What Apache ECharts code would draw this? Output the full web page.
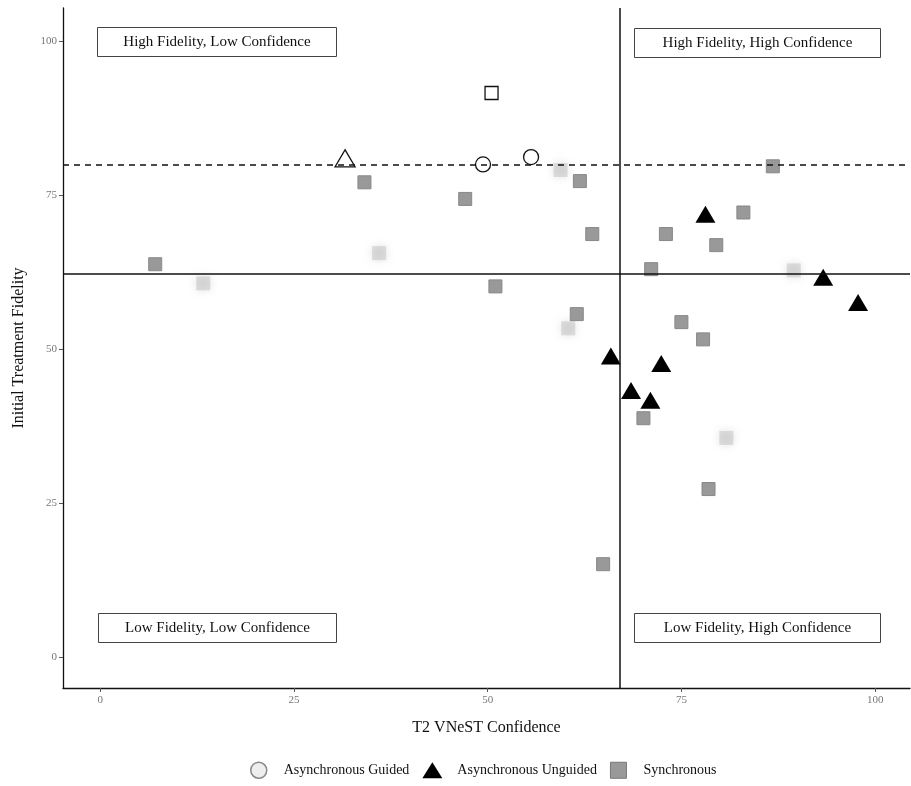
<!DOCTYPE html>
<html>
<head>
<meta charset="utf-8">
<script src="https://cdn.jsdelivr.net/npm/echarts@6/dist/echarts.min.js"></script>
<style>html,body{margin:0;padding:0;background:#fff}#c{width:911px;height:786px}</style>
</head>
<body>
<div id="c"></div>
<script>
// ---- data ----
var xTicks = [0, 25, 50, 75, 100];
var yTicks = [0, 25, 50, 75, 100];

var guidedX = [49.4, 55.6];
var guidedY = [80.0, 81.2];

var unguidedX = [78.1, 93.3, 97.8, 65.9, 68.5, 72.4, 71.0];
var unguidedY = [71.9, 61.7, 57.6, 48.9, 43.3, 47.7, 41.7];

var hollowTriX = [31.6];
var hollowTriY = [81.0];
var hollowSqX = [50.5];
var hollowSqY = [91.6];

var syncX = [7.1, 34.1, 47.1, 51.0, 61.9, 63.5, 61.5, 73.0, 83.0, 86.8, 79.5, 71.1, 75.0, 77.8, 70.1, 78.5, 64.9];
var syncY = [63.8, 77.1, 74.4, 60.2, 77.3, 68.7, 55.7, 68.7, 72.2, 79.7, 66.9, 63.0, 54.4, 51.6, 38.8, 27.3, 15.1];

var faintX = [13.3, 36.0, 59.4, 60.4, 80.8, 89.5];
var faintY = [60.7, 65.6, 79.1, 53.4, 35.6, 62.8];

var vLineX = 67.0;
var hLineY = 62.3;
var dashLineY = 80.0;

var quadLabels = ['High Fidelity, Low Confidence', 'High Fidelity, High Confidence',
                  'Low Fidelity, Low Confidence', 'Low Fidelity, High Confidence'];

function zip(a, b) { return a.map(function (v, i) { return [v, b[i]]; }); }

var FONT = 'Liberation Serif';
var chart = echarts.init(document.getElementById('c'));

function quadBox(left, top, w, text) {
  return {
    type: 'group', left: left, top: top,
    children: [
      { type: 'rect', shape: { x: 0, y: 0, width: w, height: 29 },
        style: { fill: '#fff', stroke: '#444', lineWidth: 1 } },
      { type: 'text', x: w / 2, y: 15,
        style: { text: text, fontFamily: FONT, fontSize: 15, fill: '#111', align: 'center', verticalAlign: 'middle' } }
    ]
  };
}

chart.setOption({
  animation: false,
  backgroundColor: '#fff',
  textStyle: { fontFamily: FONT },
  grid: { left: 63, right: 1, top: 8, bottom: 98, containLabel: false },
  xAxis: {
    type: 'value', min: -4.8, max: 104.5,
    name: 'T2 VNeST Confidence', nameLocation: 'middle', nameGap: 32,
    nameTextStyle: { fontFamily: FONT, fontSize: 16, color: '#111' },
    axisLine: { show: true, onZero: false, lineStyle: { color: '#111', width: 1.3 } },
    axisTick: { show: true, customValues: xTicks, length: 4, lineStyle: { color: '#555' } },
    axisLabel: { customValues: xTicks, fontFamily: FONT, fontSize: 11, color: '#777', margin: 7 },
    splitLine: { show: false }
  },
  yAxis: {
    type: 'value', min: -5, max: 105.4,
    name: 'Initial Treatment Fidelity', nameLocation: 'middle', nameGap: 36,
    nameTextStyle: { fontFamily: FONT, fontSize: 16, color: '#111' },
    axisLine: { show: true, onZero: false, lineStyle: { color: '#111', width: 1.3 } },
    axisTick: { show: true, customValues: yTicks, length: 4, lineStyle: { color: '#555' } },
    axisLabel: { customValues: yTicks, fontFamily: FONT, fontSize: 11, color: '#777', margin: 6 },
    splitLine: { show: false }
  },
  legend: {
    bottom: 2, left: 245, itemGap: 13, itemWidth: 20, itemHeight: 16, symbolKeepAspect: true,
    textStyle: { fontFamily: FONT, fontSize: 14, color: '#111', padding: [0, 0, 0, 10] },
    data: [
      { name: 'Asynchronous Guided', icon: 'path://M8,0A8,8 0 1,1 7.99,0Z', itemStyle: { color: '#eee', borderColor: '#888', borderWidth: 1.5 } },
      { name: 'Asynchronous Unguided', icon: 'triangle', itemStyle: { color: '#000' } },
      { name: 'Synchronous', icon: 'path://M0,0H14V14H0Z', itemStyle: { color: '#999', borderColor: '#777', borderWidth: 1 } }
    ]
  },
  graphic: [
    quadBox(97, 27, 239, quadLabels[0]),
    quadBox(634, 28, 246, quadLabels[1]),
    quadBox(98, 613, 238, quadLabels[2]),
    quadBox(634, 613, 246, quadLabels[3])
  ],
  series: [
    {
      name: 'lines', type: 'scatter', data: [], silent: true,
      markLine: {
        silent: true, symbol: 'none', label: { show: false },
        data: [
          { xAxis: vLineX, lineStyle: { color: '#111', width: 1.5, type: 'solid' } },
          { yAxis: hLineY, lineStyle: { color: '#111', width: 1.5, type: 'solid' } },
          { yAxis: dashLineY, lineStyle: { color: '#111', width: 1.6, type: [6, 5] } }
        ]
      }
    },
    {
      name: 'faint', type: 'scatter', symbol: 'rect', symbolSize: 14, z: 2,
      data: zip(faintX, faintY), silent: true,
      itemStyle: { color: '#bbb', opacity: 0.45, shadowBlur: 8, shadowColor: 'rgba(150,150,150,0.6)' }
    },
    {
      name: 'Synchronous', type: 'scatter', symbol: 'rect', symbolSize: 13, z: 3,
      data: zip(syncX, syncY),
      itemStyle: { color: '#999', borderColor: '#888', borderWidth: 1, opacity: 1 }
    },
    {
      name: 'Asynchronous Unguided', type: 'scatter', symbol: 'triangle', symbolSize: [20, 17], z: 4,
      data: zip(unguidedX, unguidedY),
      itemStyle: { color: '#000', opacity: 1 }
    },
    {
      name: 'Asynchronous Guided', type: 'scatter', symbol: 'circle', symbolSize: 15, z: 5,
      data: zip(guidedX, guidedY),
      itemStyle: { color: 'rgba(255,255,255,0)', borderColor: '#111', borderWidth: 1.3, opacity: 1 }
    },
    {
      name: 'hollowTri', type: 'scatter', symbol: 'triangle', symbolSize: [20, 17], z: 5,
      data: zip(hollowTriX, hollowTriY),
      itemStyle: { color: 'rgba(255,255,255,0)', borderColor: '#111', borderWidth: 1.3, opacity: 1 }
    },
    {
      name: 'hollowSq', type: 'scatter', symbol: 'rect', symbolSize: 13, z: 5,
      data: zip(hollowSqX, hollowSqY),
      itemStyle: { color: 'rgba(255,255,255,0)', borderColor: '#111', borderWidth: 1.3, opacity: 1 }
    }
  ]
});
</script>
</body>
</html>
